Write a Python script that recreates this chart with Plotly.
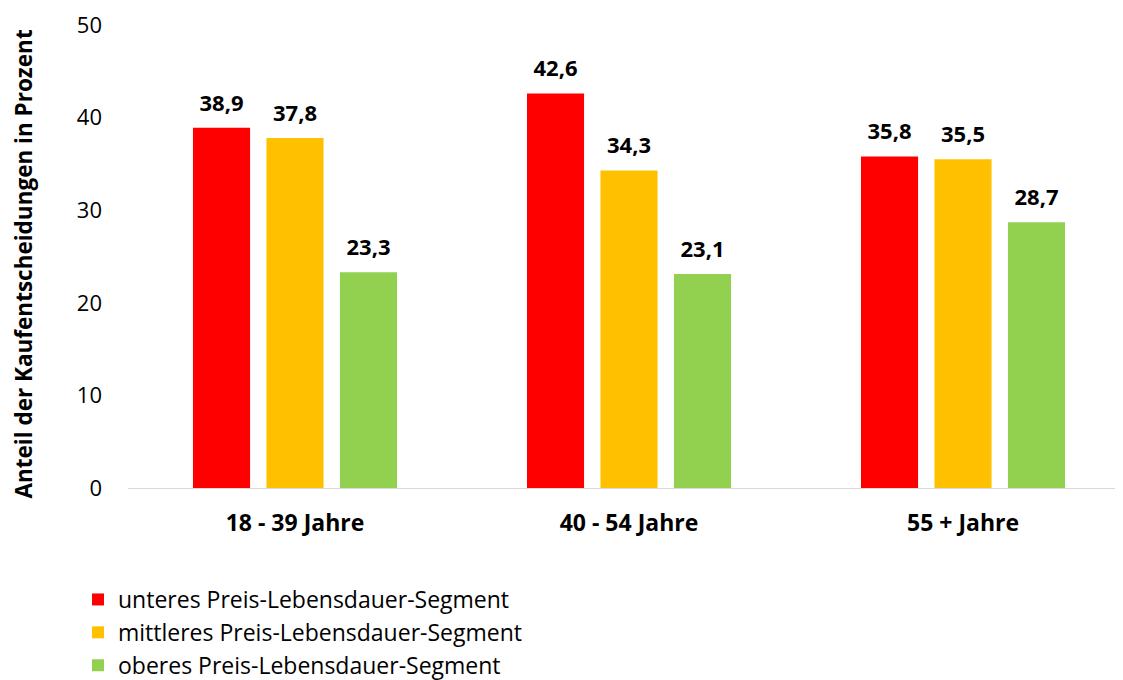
import plotly.graph_objects as go

categories = ["18 - 39 Jahre", "40 - 54 Jahre", "55 + Jahre"]
series_names = ["unteres Preis-Lebensdauer-Segment",
                "mittleres Preis-Lebensdauer-Segment",
                "oberes Preis-Lebensdauer-Segment"]
unteres = [38.9, 42.6, 35.8]
mittleres = [37.8, 34.3, 35.5]
oberes = [23.3, 23.1, 28.7]
colors = ["#FF0000", "#FFC000", "#92D050"]
y_ticks = [0, 10, 20, 30, 40, 50]

FONT = "Open Sans"
# page body has an 8px default margin, so the figure is 8px smaller than the window
W, H = 1115, 672
L, T, B = 120, 17, 192
PW, PH = W - L, H - T - B
GAP, GROUPGAP = 0.34, 0.223

fig = go.Figure()
for i, (name, vals, col) in enumerate(zip(series_names, [unteres, mittleres, oberes], colors)):
    fig.add_trace(go.Bar(
        x=categories, y=vals, name=name, marker=dict(color=col, line=dict(width=0)),
        offsetgroup=str(i), hoverinfo="x+y",
    ))
for i, vals in enumerate([unteres, mittleres, oberes]):
    fig.add_trace(go.Scatter(
        x=categories, y=vals, mode="markers+text", showlegend=False,
        offsetgroup=str(i), hoverinfo="skip",
        marker=dict(size=17, opacity=0),
        text=[f"{v:.1f}".replace(".", ",") for v in vals],
        textposition="top center", cliponaxis=False,
        textfont=dict(family=FONT, size=22, color="#000000", weight="bold"),
    ))

fig.update_layout(
    width=W, height=H,
    margin=dict(l=L, r=0, t=T, b=B, autoexpand=False),
    paper_bgcolor="white", plot_bgcolor="white",
    barmode="group", bargap=GAP, bargroupgap=GROUPGAP,
    scattermode="group", scattergap=GAP,
    font=dict(family=FONT, color="#000000"),
    showlegend=True,
    legend=dict(
        xref="paper", yref="paper", x=(70 - L) / PW, y=(H - B - 570) / PH,
        xanchor="left", yanchor="top",
        orientation="v", font=dict(family=FONT, size=23, color="#000000"),
        itemwidth=30, tracegroupgap=0, traceorder="normal",
    ),
    xaxis=dict(
        range=[-0.5, 2.479], showgrid=False, showline=True, linecolor="#D9D9D9", linewidth=1,
        ticks="", ticklabelstandoff=14,
        tickfont=dict(family=FONT, size=23, color="#000000", weight="bold"),
    ),
    yaxis=dict(
        range=[0, 50], tickvals=y_ticks, showgrid=False, zeroline=False, showline=False,
        ticks="", ticklabelstandoff=25, tickfont=dict(family=FONT, size=22, color="#000000"),
    ),
    annotations=[dict(
        text="<b>Anteil der Kaufentscheidungen in Prozent</b>", textangle=-90,
        xref="paper", yref="paper", x=(15 - L) / PW, y=(H - B - 256.5) / PH,
        xanchor="center", yanchor="middle", showarrow=False,
        font=dict(family=FONT, size=22.5, color="#000000"),
    )],
)

fig.write_html("out.html")
